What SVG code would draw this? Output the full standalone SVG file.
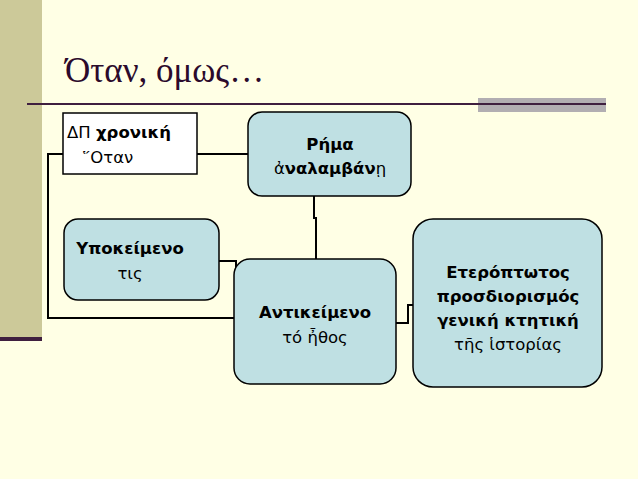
<svg xmlns="http://www.w3.org/2000/svg" width="638" height="479" viewBox="0 0 638 479">
<style>
.n{fill:#BFE0E3;stroke:#000;stroke-width:1.5}
.t{font-family:"DejaVu Sans","Liberation Sans",sans-serif;font-size:16.5px;fill:#000;text-anchor:middle}
.b{font-weight:bold}
.c{fill:none;stroke:#000;stroke-width:2}
</style>
<rect width="638" height="479" fill="#FFFFE5"/>
<rect x="0" y="0" width="42" height="340" fill="#CCC999"/>
<rect x="0" y="337" width="42" height="4" fill="#3F1F3F"/>
<text x="65" y="82" font-family="Liberation Serif,serif" font-size="35" fill="#2B0A2B">Όταν, όμως…</text>
<rect x="478" y="98" width="128" height="14" fill="#B2AEB2"/>
<line x1="27" y1="104" x2="606" y2="104" stroke="#3F1F3F" stroke-width="2"/>
<g id="connectors">
<polyline class="c" points="197,154 248,154"/>
<polyline class="c" points="63,154 48,154 48,318 234,318"/>
<polyline class="c" points="314,196 314,218 316,218 316,259"/>
<polyline class="c" points="219,261 236,261 236,272"/>
<polyline class="c" points="396,323 408,323 408,305 413,305"/>
</g>
<g id="dp">
<rect x="63" y="113" width="134" height="61" fill="#fff" stroke="#000" stroke-width="1.5"/>
<text x="67" y="138" class="t" style="text-anchor:start">ΔΠ <tspan class="b">χρονική</tspan></text>
<text x="82" y="163" class="t" style="text-anchor:start">῞Οταν</text>
</g>
<g id="rima">
<rect class="n" x="248" y="112" width="163" height="84" rx="14"/>
<text x="330" y="150" class="t b">Ρήμα</text>
<text x="330" y="174" class="t"><tspan>ἀ</tspan><tspan class="b">ναλαμβάν</tspan><tspan>ῃ</tspan></text>
</g>
<g id="ypokeimeno">
<rect class="n" x="64" y="219" width="155" height="81" rx="14"/>
<text x="130" y="254" class="t b">Υποκείμενο</text>
<text x="130" y="279" class="t">τις</text>
</g>
<g id="antikeimeno">
<rect class="n" x="234" y="259" width="162" height="125" rx="16"/>
<text x="315" y="318" class="t b">Αντικείμενο</text>
<text x="315" y="343" class="t">τό ἦθος</text>
</g>
<g id="eteroptotos">
<rect class="n" x="413" y="219" width="189" height="168" rx="20"/>
<text x="508" y="278" class="t b">Ετερόπτωτος</text>
<text x="508" y="302" class="t b">προσδιορισμός</text>
<text x="508" y="326" class="t b">γενική κτητική</text>
<text x="508" y="350" class="t">τῆς ἱστορίας</text>
</g>
</svg>
